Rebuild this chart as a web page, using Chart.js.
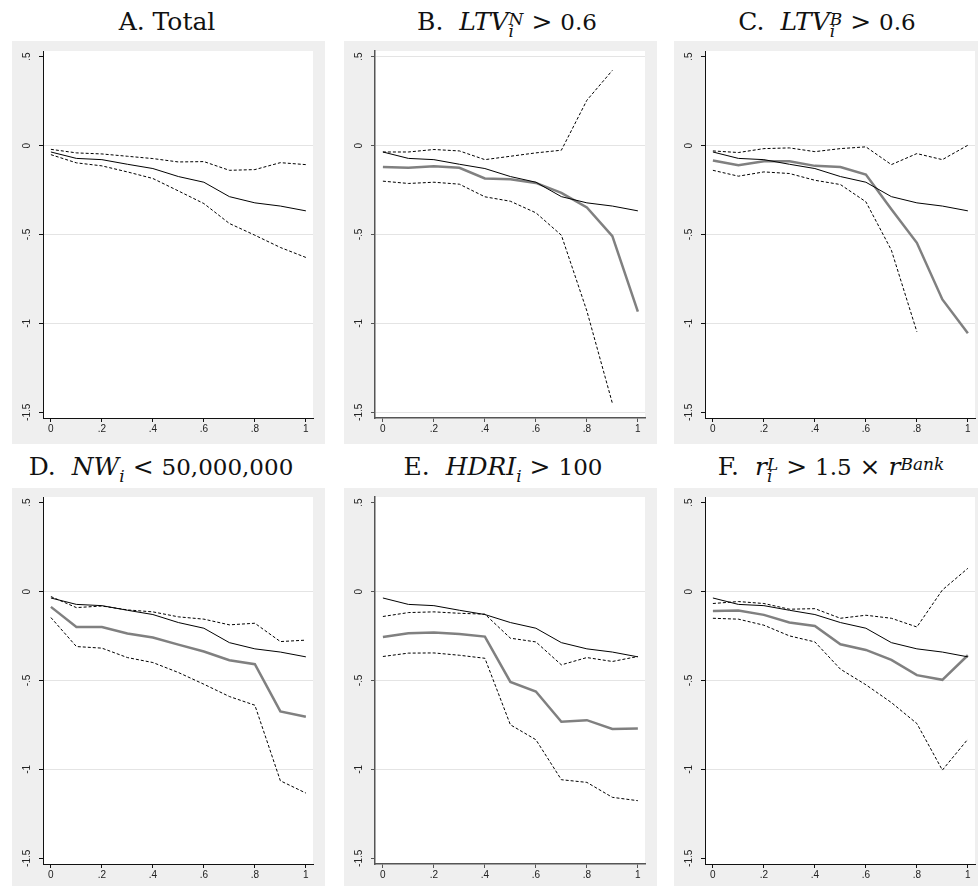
<!DOCTYPE html>
<html>
<head>
<meta charset="utf-8">
<script src="https://cdn.jsdelivr.net/npm/chart.js@4.4.1/dist/chart.umd.min.js"></script>
<style>
  html, body { margin: 0; padding: 0; background: #fff; overflow: hidden; }
  body { width: 978px; height: 886px; position: relative; }
  canvas { position: absolute; background: #efefef; }
  .title {
    position: absolute; width: 320px; text-align: center; white-space: nowrap;
    font-family: 'DejaVu Serif', serif; font-size: 25px; line-height: 25px; color: #111;
  }
  .num { font-size: 23px; }
  .stack { position: relative; display: inline-block; font-size: 17px; line-height: 17px; }
  .stack .up { position: relative; top: -5px; }
  .stack .dn { position: absolute; left: 0; top: 7px; }
  .sub { position: relative; top: 7px; font-size: 17px; }
  .sup { position: relative; top: -5px; font-size: 17px; }
</style>
</head>
<body>

<div class="title" style="left:7px; top:9px;">A. Total</div>
<div class="title" style="left:347px; top:9px;">B.&nbsp; <i>LTV</i><span class="stack"><i class="up">N</i><i class="dn">i</i></span> &gt; <span class="num">0.6</span></div>
<div class="title" style="left:667px; top:9px;">C.&nbsp; <i>LTV</i><span class="stack"><i class="up">B</i><i class="dn">i</i></span> &gt; <span class="num">0.6</span></div>
<div class="title" style="left:1px; top:454px;">D.&nbsp; <i>NW</i><i class="sub">i</i> &lt; <span class="num">50,000,000</span></div>
<div class="title" style="left:343px; top:454px;">E.&nbsp; <i>HDRI</i><i class="sub">i</i> &gt; <span class="num">100</span></div>
<div class="title" style="left:671px; top:454px;">F.&nbsp; <i>r</i><span class="stack"><i class="up">L</i><i class="dn">i</i></span> &gt; <span class="num">1.5</span> × <i>r</i><i class="sup">Bank</i></div>

<canvas id="panelA" width="313" height="403" style="left:12px; top:41px;"></canvas>
<canvas id="panelB" width="313" height="403" style="left:344px; top:41px;"></canvas>
<canvas id="panelC" width="313" height="403" style="left:674px; top:41px;"></canvas>
<canvas id="panelD" width="313" height="398" style="left:12px; top:488px;"></canvas>
<canvas id="panelE" width="313" height="398" style="left:344px; top:488px;"></canvas>
<canvas id="panelF" width="313" height="398" style="left:674px; top:488px;"></canvas>

<script>
// horizon grid (0 to 1 in steps of .1) and axis ticks
const steps = [0, 0.1, 0.2, 0.3, 0.4, 0.5, 0.6, 0.7, 0.8, 0.9, 1];
const xTicks = [0, 0.2, 0.4, 0.6, 0.8, 1];
const yTicks = [-1.5, -1, -0.5, 0, 0.5];

// baseline estimate shared by every panel
const total = [-0.036, -0.072, -0.079, -0.105, -0.129, -0.174, -0.206, -0.287, -0.322, -0.340, -0.367];

// A. Total
const totalUpper = [-0.021, -0.041, -0.047, -0.060, -0.073, -0.092, -0.090, -0.139, -0.135, -0.096, -0.107];
const totalLower = [-0.051, -0.097, -0.114, -0.148, -0.185, -0.255, -0.326, -0.438, -0.504, -0.573, -0.629];

// B. LTV^N > 0.6
const ltvN = [-0.120, -0.125, -0.116, -0.125, -0.185, -0.189, -0.210, -0.266, -0.348, -0.509, -0.934];
const ltvNUpper = [-0.036, -0.036, -0.022, -0.030, -0.079, -0.060, -0.041, -0.026, 0.255, 0.423, null];
const ltvNLower = [-0.200, -0.213, -0.206, -0.217, -0.288, -0.313, -0.378, -0.504, -0.930, -1.449, null];

// C. LTV^B > 0.6
const ltvB = [-0.084, -0.110, -0.088, -0.088, -0.114, -0.120, -0.163, -0.358, -0.547, -0.865, -1.056];
const ltvBUpper = [-0.030, -0.039, -0.017, -0.013, -0.034, -0.017, -0.007, -0.107, -0.045, -0.079, 0.002];
const ltvBLower = [-0.139, -0.172, -0.148, -0.157, -0.195, -0.219, -0.316, -0.588, -1.047, null, null];

// D. NW < 50,000,000
const netWorth = [-0.086, -0.199, -0.199, -0.236, -0.258, -0.298, -0.337, -0.386, -0.408, -0.674, -0.704];
const netWorthUpper = [-0.028, -0.090, -0.081, -0.103, -0.114, -0.142, -0.155, -0.187, -0.178, -0.281, -0.273];
const netWorthLower = [-0.146, -0.309, -0.318, -0.371, -0.399, -0.455, -0.521, -0.590, -0.639, -1.064, -1.133];

// E. HDRI > 100
const hdri = [-0.255, -0.234, -0.230, -0.238, -0.253, -0.508, -0.562, -0.732, -0.723, -0.773, -0.770];
const hdriUpper = [-0.140, -0.118, -0.114, -0.122, -0.127, -0.262, -0.283, -0.412, -0.371, -0.393, -0.365];
const hdriLower = [-0.365, -0.346, -0.345, -0.358, -0.375, -0.749, -0.833, -1.058, -1.073, -1.157, -1.176];

// F. r^L > 1.5 x r^Bank
const loanRate = [-0.109, -0.107, -0.131, -0.174, -0.193, -0.296, -0.328, -0.384, -0.470, -0.496, -0.358];
const loanRateUpper = [-0.067, -0.056, -0.067, -0.099, -0.096, -0.150, -0.133, -0.150, -0.199, 0.009, 0.131];
const loanRateLower = [-0.150, -0.155, -0.189, -0.249, -0.283, -0.436, -0.524, -0.624, -0.742, -1.004, -0.830];

const tickFont = { family: "'Liberation Sans', Arial, sans-serif", size: 10 };

// white plot region inside the grey graph region
const plotBackground = {
    id: 'plotBackground',
    beforeDraw(chart) {
        const { ctx, chartArea } = chart;
        ctx.save();
        ctx.fillStyle = '#ffffff';
        ctx.fillRect(chartArea.left, chartArea.top, chartArea.right - chartArea.left, chartArea.bottom - chartArea.top);
        ctx.restore();
    }
};

function toPoints(values) {
    return steps.map((x, i) => ({ x: x, y: values[i] }));
}

function formatTick(value) {
    return String(value).replace(/^(-?)0\./, '$1.');
}

function line(values, style) {
    return Object.assign({
        data: toPoints(values),
        borderColor: '#000000',
        borderWidth: 1,
        pointRadius: 0,
        tension: 0,
        fill: false
    }, style);
}

function drawPanel(id, series, opts) {
    const datasets = [line(total, {})];
    if (series.estimate) {
        datasets.push(line(series.estimate, { borderColor: '#808080', borderWidth: 2.5 }));
    }
    datasets.push(line(series.upper, { borderDash: [3, 2] }));
    datasets.push(line(series.lower, { borderDash: [3, 2] }));

    const axisColor = opts.axisColor || '#111111';
    const axisWidth = opts.axisWidth || 1;

    return new Chart(document.getElementById(id), {
        type: 'line',
        data: { datasets: datasets },
        options: {
            responsive: false,
            animation: false,
            devicePixelRatio: 1,
            layout: {
                autoPadding: false,
                padding: { top: opts.top, right: 12, left: 0, bottom: 0 }
            },
            plugins: {
                legend: { display: false },
                tooltip: { enabled: false }
            },
            scales: {
                x: {
                    type: 'linear',
                    min: -0.031,
                    max: 1.028,
                    afterBuildTicks: scale => { scale.ticks = xTicks.map(v => ({ value: v })); },
                    afterFit: scale => {
                        scale.height = opts.bottom;
                        scale.paddingLeft = 0;
                        scale.paddingRight = 0;
                    },
                    grid: { drawOnChartArea: false, tickLength: 4, tickColor: axisColor },
                    border: { color: axisColor, width: axisWidth },
                    ticks: {
                        autoSkip: false,
                        maxRotation: 0,
                        padding: 1,
                        font: tickFont,
                        color: '#222222',
                        callback: formatTick
                    }
                },
                y: {
                    type: 'linear',
                    min: -1.532,
                    max: 0.532,
                    afterBuildTicks: scale => { scale.ticks = yTicks.map(v => ({ value: v })); },
                    afterFit: scale => {
                        scale.width = 31;
                        scale.paddingTop = 0;
                        scale.paddingBottom = 0;
                    },
                    grid: {
                        tickLength: 4,
                        tickColor: axisColor,
                        color: ctx => {
                            const v = ctx.tick ? ctx.tick.value : null;
                            if (v === -1.5 || v === 0.5) {
                                return opts.edgeGrid ? '#e4e4e4' : 'rgba(0,0,0,0)';
                            }
                            return '#e4e4e4';
                        }
                    },
                    border: { color: axisColor, width: axisWidth },
                    ticks: {
                        autoSkip: false,
                        minRotation: 90,
                        maxRotation: 90,
                        crossAlign: 'center',
                        padding: 3,
                        font: tickFont,
                        color: '#222222',
                        callback: formatTick
                    }
                }
            }
        },
        plugins: [plotBackground]
    });
}

const topRow = { top: 10, bottom: 26 };
const bottomRow = { top: 9, bottom: 22 };

drawPanel('panelA', { upper: totalUpper, lower: totalLower }, topRow);
drawPanel('panelB', { estimate: ltvN, upper: ltvNUpper, lower: ltvNLower },
    Object.assign({ edgeGrid: true, axisColor: '#555555', axisWidth: 1.5 }, topRow));
drawPanel('panelC', { estimate: ltvB, upper: ltvBUpper, lower: ltvBLower }, topRow);
drawPanel('panelD', { estimate: netWorth, upper: netWorthUpper, lower: netWorthLower }, bottomRow);
drawPanel('panelE', { estimate: hdri, upper: hdriUpper, lower: hdriLower },
    Object.assign({ axisColor: '#555555', axisWidth: 1.5 }, bottomRow));
drawPanel('panelF', { estimate: loanRate, upper: loanRateUpper, lower: loanRateLower }, bottomRow);
</script>
</body>
</html>
